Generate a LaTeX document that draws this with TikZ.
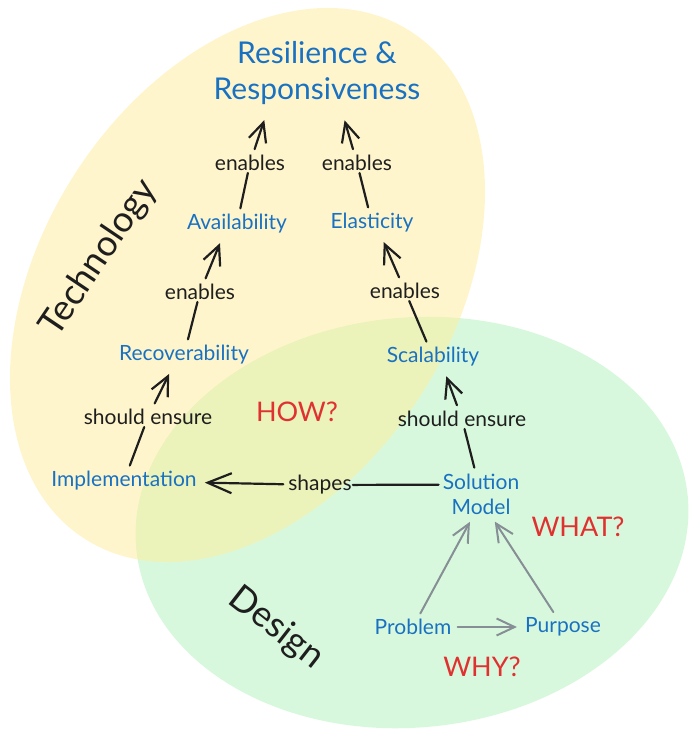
\documentclass[tikz,border=0pt]{standalone}
\usepackage{fontspec}
\setmainfont{Lato}
\usepackage{xcolor}
\usetikzlibrary{arrows.meta,positioning,calc}

\definecolor{xblue}{HTML}{1971C2}
\definecolor{xred}{HTML}{E03131}
\definecolor{xink}{HTML}{1E1E1E}
\definecolor{xgray}{HTML}{868E96}
\definecolor{techfill}{HTML}{FFEC99}
\definecolor{designfill}{HTML}{B2F2BB}

\begin{document}
\begin{tikzpicture}[
  x=1pt, y=-1pt,
  font=\fontsize{21}{25}\selectfont,
  concept/.style={text=xblue, inner sep=2pt, align=center},
  lbl/.style={text=xink, inner sep=2pt},
  ask/.style={text=xred, font=\fontsize{27}{30}\selectfont},
  area/.style={text=xink, font=\fontsize{36}{40}\selectfont},
  link/.style={draw=xink, line width=2.2pt, line cap=round, shorten <=4pt},
  flow/.style={link, -{Straight Barb[length=19pt,width=18pt]}, shorten >=8pt},
  why/.style={draw=xgray, line width=2pt, line cap=round, -{Straight Barb[length=18pt,width=17pt]}, shorten >=6pt, shorten <=4pt}
]
\useasboundingbox (0,0) rectangle (697,738);

% the two areas
\fill[designfill, fill opacity=0.5, rotate around={5.4:(412,522.5)}] (412,522.5) ellipse (277pt and 205pt);
\fill[techfill, fill opacity=0.5, rotate around={57.3:(247.5,285)}] (247.5,285) ellipse (301.6pt and 205.4pt);

\node[area, rotate=56] (tech) at (99,258) {Technology};
\node[area, rotate=-38] (design) at (276,628) {Design};

% concepts
\node[concept, font=\fontsize{30}{36}\selectfont] (rr) at (317,73) {Resilience \&\\Responsiveness};
\node[concept] (avail) at (237,224) {Availability};
\node[concept] (elast) at (372,223) {Elasticity};
\node[concept] (recov) at (184,355) {Recoverability};
\node[concept] (scal) at (433,357) {Scalability};
\node[concept] (impl) at (124,481) {Implementation};
\node[concept] (sol) at (481,494) {Solution\\Model};
\node[concept] (prob) at (413,627) {Problem};
\node[concept] (purp) at (563,627) {Purpose};

% edge labels
\node[lbl] (en1) at (250,163) {enables};
\node[lbl] (en2) at (357,163) {enables};
\node[lbl] (en3) at (200,292) {enables};
\node[lbl] (en4) at (405,291) {enables};
\node[lbl] (se1) at (148,417) {should ensure};
\node[lbl] (se2) at (462,419) {should ensure};
\node[lbl, inner sep=1pt] (shp) at (320,485) {shapes};

\node[ask] (how) at (297,412) {HOW?};
\node[ask] (what) at (578,527) {WHAT?};
\node[ask] (why) at (482,667) {WHY?};

% technology chain
\draw[link] (impl) -- (se1);
\draw[flow] (se1) -- (recov.226);
\draw[link] (recov) -- (en3);
\draw[flow] (en3) -- (avail.220);
\draw[link] (avail) -- (en1);
\draw[flow, shorten >=14pt] (en1) -- (rr.215);
\draw[link] (scal) -- (en4);
\draw[flow] (en4) -- (elast.306);
\draw[link] (elast) -- (en2);
\draw[flow, shorten >=14pt] (en2) -- (rr.305);

% design side
\draw[link] (sol) -- (se2);
\draw[flow] (se2) -- (scal.312);
\draw[link, shorten <=2pt] (sol.167) -- (shp);
\draw[flow, -{Straight Barb[length=24pt,width=20pt]}, shorten >=6pt] (shp) -- (impl);
\draw[why] (prob) -- (sol.250);
\draw[why] (purp) -- (sol.295);
\draw[why] (prob) -- (purp);
\end{tikzpicture}
\end{document}
